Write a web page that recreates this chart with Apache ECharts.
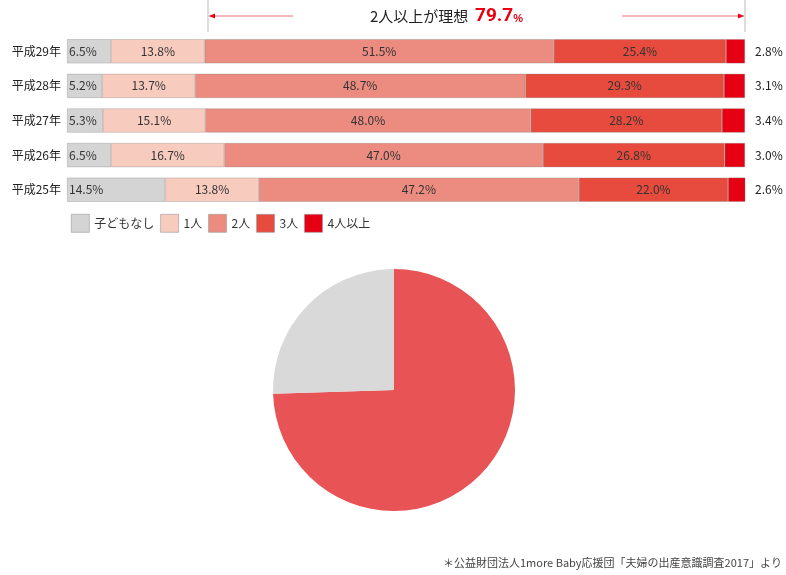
<!DOCTYPE html>
<html>
<head>
<meta charset="utf-8" />
<script src="https://cdn.jsdelivr.net/npm/echarts@6/dist/echarts.min.js"></script>
<style>
	html, body {margin:0;padding:0;background:#fff;}
	#chart {width:786px;height:575px;}
</style>
</head>
<body>
<div id="chart"></div>
<script>
	var years = ['平成29年', '平成28年', '平成27年', '平成26年', '平成25年'];
	var seriesNames = ['子どもなし', '1人', '2人', '3人', '4人以上'];
	var none = [6.5, 5.2, 5.3, 6.5, 14.5];
	var one = [13.8, 13.7, 15.1, 16.7, 13.8];
	var two = [51.5, 48.7, 48.0, 47.0, 47.2];
	var three = [25.4, 29.3, 28.2, 26.8, 22.0];
	var four = [2.8, 3.1, 3.4, 3.0, 2.6];
	var pieNames = ['「二人目の壁」が存在すると思う', '存在しないと思う'];
	var pieValues = [74.5, 25.5];
	var idealTotal = 79.7;

	var colors = ['#d4d4d4', '#f8cbbf', '#ec8c80', '#e64b3d', '#e50013'];
	var font = '"Noto Sans CJK JP", sans-serif';
	var chart = echarts.init(document.getElementById('chart'));

	var barData = [none, one, two, three, four];
	var bars = barData.map(function (d, i) {
		return {
			name: seriesNames[i],
			type: 'bar',
			stack: 'all',
			barCategoryGap: '30%',
			data: d,
			itemStyle: {color: colors[i], borderColor: 'rgba(120,120,120,0.5)', borderWidth: 0.6},
			label: {
				show: i < 4,
				position: i == 0 ? 'insideLeft' : 'inside',
				offset: i == 0 ? [-3, 0] : [0, 0],
				color: '#333',
				fontSize: 12,
				fontFamily: font,
				formatter: function (p) { return p.value.toFixed(1) + '%'; }
			}
		};
	});

	bars.push({
		type: 'pie',
		center: [394, 390],
		radius: 121,
		startAngle: 90,
		clockwise: true,
		silent: true,
		label: {show: false},
		data: [
			{name: pieNames[0], value: pieValues[0], itemStyle: {color: '#e85356'}},
			{name: pieNames[1], value: pieValues[1], itemStyle: {color: '#d9d9d9'}}
		]
	});

	chart.setOption({
		animation: false,
		textStyle: {fontFamily: font},
		grid: {left: 67, width: 678, top: 34, height: 173},
		legend: {
			data: seriesNames,
			left: 66, top: 209,
			icon: 'rect', itemWidth: 18, itemHeight: 18, itemGap: 6,
			itemStyle: {borderColor: '#999', borderWidth: 0.6},
			textStyle: {fontSize: 12, color: '#333', width: 82, fontFamily: font}
		},
		xAxis: {type: 'value', min: 0, max: 100, show: false},
		yAxis: [
			{type: 'category', data: years, inverse: true, axisLine: {show: false}, axisTick: {show: false},
				axisLabel: {fontSize: 12, color: '#222', margin: 6, fontFamily: font}},
			{type: 'category', position: 'right', data: four.map(function (v) { return v.toFixed(1) + '%'; }),
				inverse: true, axisLine: {show: false}, axisTick: {show: false},
				axisLabel: {fontSize: 12, color: '#222', margin: 10, fontFamily: font}}
		],
		series: bars,
		graphic: [
			{type: 'line', shape: {x1: 208, y1: 0, x2: 208, y2: 32}, style: {stroke: '#bbb', lineWidth: 1}},
			{type: 'line', shape: {x1: 745, y1: 0, x2: 745, y2: 32}, style: {stroke: '#bbb', lineWidth: 1}},
			{type: 'line', shape: {x1: 209, y1: 16, x2: 293, y2: 16}, style: {stroke: '#e8707a', lineWidth: 1}},
			{type: 'line', shape: {x1: 622, y1: 16, x2: 744, y2: 16}, style: {stroke: '#e8707a', lineWidth: 1}},
			{type: 'polygon', shape: {points: [[209, 16], [215, 13.5], [215, 18.5]]}, style: {fill: '#e60012'}},
			{type: 'polygon', shape: {points: [[744, 16], [738, 13.5], [738, 18.5]]}, style: {fill: '#e60012'}},
			{type: 'text', left: 370, top: 7, style: {
				text: '{a|2人以上が理想}  {b|' + idealTotal + '}{c|%}',
				rich: {
					a: {fontSize: 15, fill: '#222', fontFamily: font},
					b: {fontSize: 19, fontWeight: 'bold', fill: '#e60012', fontFamily: 'Roboto, sans-serif'},
					c: {fontSize: 11, fontWeight: 'bold', fill: '#e60012', padding: [5, 0, 0, 0]}
				}
			}},
			{type: 'text', left: 311, top: 309, style: {
				text: '存在しない\nと思う\n{v|' + pieValues[1] + '}{p|%}',
				fill: '#222', fontSize: 14, lineHeight: 17, fontFamily: font,
				rich: {
					v: {fontSize: 22, fontWeight: 'bold', fill: '#222', fontFamily: 'Roboto, sans-serif', lineHeight: 34},
					p: {fontSize: 12, fontWeight: 'bold', fill: '#222', padding: [6, 0, 0, 2]}
				}
			}},
			{type: 'text', left: 385, top: 404, style: {
				text: '『二人目の壁』が\n存在すると思う\n{v|' + pieValues[0] + '}{p|%}',
				fill: '#fff', fontSize: 13, lineHeight: 20, fontFamily: font,
				rich: {
					v: {fontSize: 22, fontWeight: 'bold', fill: '#fff', fontFamily: 'Roboto, sans-serif', lineHeight: 40, padding: [0, 0, 0, 8]},
					p: {fontSize: 12, fontWeight: 'bold', fill: '#fff', padding: [6, 0, 0, 2]}
				}
			}},
			{type: 'text', right: 4, top: 557, style: {
				text: '＊公益財団法人1more Baby応援団「夫婦の出産意識調査2017」より',
				fill: '#444', fontSize: 11, fontFamily: font
			}}
		]
	});
</script>
</body>
</html>
